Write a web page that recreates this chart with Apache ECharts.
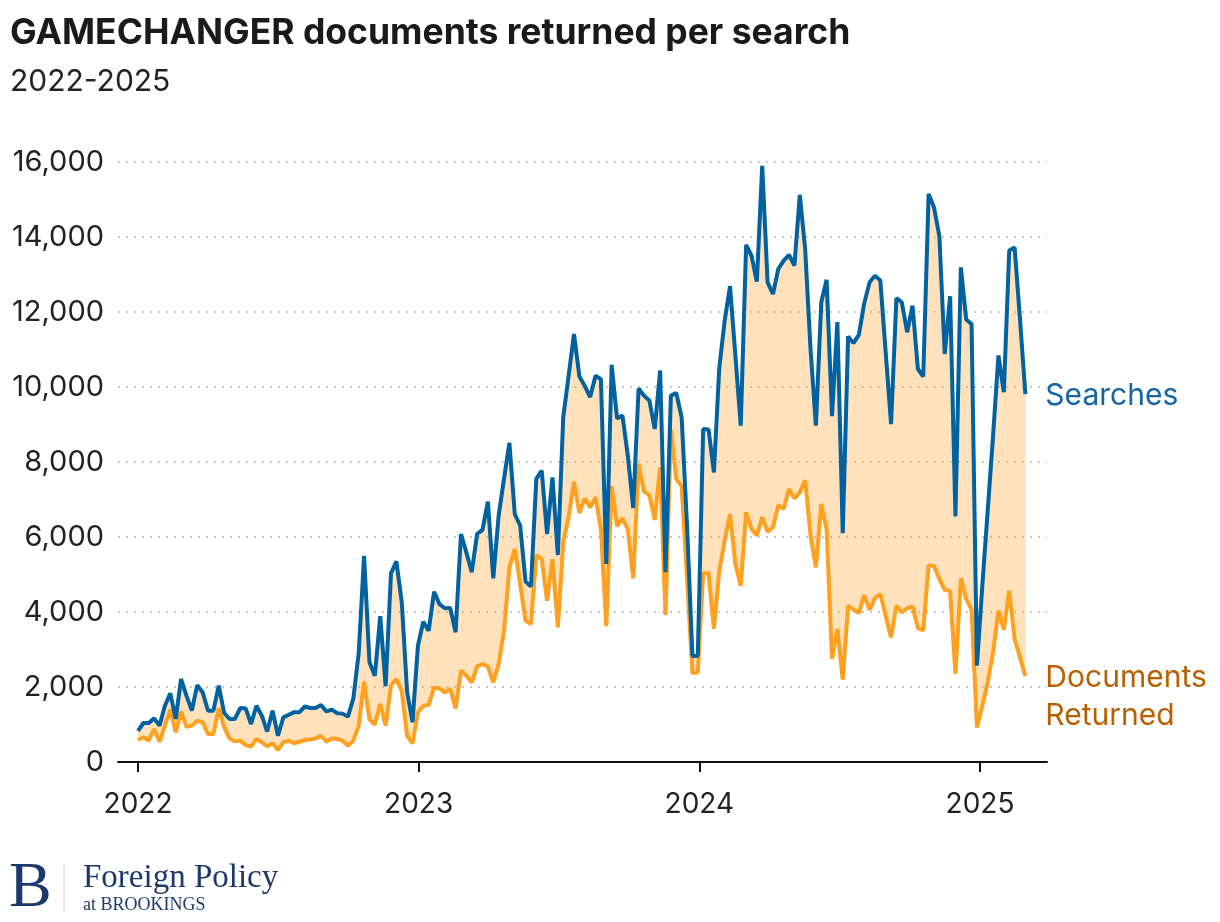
<!DOCTYPE html>
<html>
<head>
<meta charset="utf-8">
<title>GAMECHANGER documents returned per search</title>
<script src="https://cdn.jsdelivr.net/npm/echarts@6/dist/echarts.min.js"></script>
<style>
    html, body { margin: 0; padding: 0; background: #ffffff; }
    #chart { width: 1220px; height: 922px; }
</style>
</head>
<body>
<div id="chart"></div>
<script>
// weekly points, first week starts on this day
let weekStart = Date.UTC(2022, 0, 1);
let yearTicks = [2022, 2023, 2024, 2025];

let searches = [
    830, 1040, 1040, 1165, 970, 1500, 1830, 1150, 2210, 1770,
    1370, 2050, 1860, 1370, 1370, 2035, 1307, 1150, 1150, 1440,
    1430, 1013, 1500, 1235, 810, 1370, 700, 1190, 1260, 1330,
    1330, 1480, 1440, 1440, 1520, 1350, 1395, 1300, 1290, 1210,
    1690, 2900, 5500, 2660, 2300, 3890, 2020, 5030, 5350, 4260,
    1860, 1060, 3100, 3740, 3500, 4540, 4210, 4100, 4110, 3460,
    6080, 5590, 5060, 6080, 6190, 6940, 4900, 6570, 7550, 8510,
    6610, 6300, 4810, 4680, 7550, 7770, 6080, 7590, 5520, 9190,
    10300, 11410, 10280, 10030, 9730, 10300, 10210, 5280, 10590, 9160,
    9240, 8170, 6770, 9960, 9770, 9640, 8880, 10440, 5060, 9770,
    9840, 9190, 6300, 2830, 2830, 8880, 8870, 7720, 10510, 11760,
    12690, 10840, 8970, 13790, 13500, 12810, 15900, 12790, 12480, 13150,
    13370, 13520, 13240, 15120, 13680, 11010, 8970, 12260, 12860, 9220,
    11730, 6100, 11350, 11170, 11390, 12230, 12790, 12970, 12840, 10930,
    9010, 12370, 12260, 11460, 12170, 10480, 10280, 15150, 14790, 14020,
    10880, 12420, 6550, 13190, 11800, 11680, 2570, 4700, 6700, 8700,
    10840, 9860, 13640, 13720, 11810, 9810
];

let documents = [
    587, 658, 570, 880, 540, 970, 1395, 790, 1340, 940,
    970, 1100, 1060, 750, 750, 1430, 925, 630, 550, 570,
    450, 410, 615, 525, 420, 500, 320, 525, 570, 500,
    540, 587, 600, 630, 700, 540, 630, 615, 570, 435,
    570, 970, 2140, 1140, 1000, 1550, 970, 2040, 2210, 1890,
    700, 500, 1320, 1500, 1520, 1990, 1960, 1860, 1950, 1430,
    2440, 2300, 2120, 2550, 2610, 2550, 2120, 2610, 3500, 5190,
    5680, 4750, 3770, 3680, 5520, 5410, 4300, 5410, 3590, 5860,
    6530, 7480, 6640, 7030, 6790, 7060, 6210, 3620, 7350, 6290,
    6500, 6210, 4900, 7950, 7210, 7120, 6460, 7860, 3920, 8860,
    7550, 7350, 4880, 2370, 2390, 5040, 5040, 3550, 5100, 5900,
    6610, 5280, 4700, 6660, 6210, 6040, 6530, 6140, 6260, 6850,
    6750, 7280, 7030, 7190, 7510, 6040, 5190, 6880, 6210, 2750,
    3550, 2200, 4170, 4060, 3970, 4450, 4060, 4370, 4480, 3900,
    3320, 4170, 3990, 4100, 4150, 3570, 3510, 5250, 5230, 4880,
    4590, 4560, 2350, 4900, 4350, 4060, 920, 1500, 2120, 2930,
    4040, 3530, 4570, 3280, 2790, 2290
];

let blue = '#0062a1';
let orange = '#ffa01e';
let font = 'Inter, "Noto Sans", sans-serif';
let serif = '"Liberation Serif", "DejaVu Serif", serif';

// date -> fractional year, so the x axis can be a plain value axis
function toYear(t) {
    let y = new Date(t).getUTCFullYear();
    let s = Date.UTC(y, 0, 1);
    let e = Date.UTC(y + 1, 0, 1);
    return y + (t - s) / (e - s);
}

let weeks = searches.map(function (v, i) { return toYear(weekStart + i * 7 * 86400000); });

function pairs(values) {
    return values.map(function (v, i) { return [weeks[i], v]; });
}

// shaded band between the two lines, one polygon through the axis scales
function renderBand(params, api) {
    if (params.dataIndex !== 0) return null;
    var pts = [];
    for (var i = 0; i < weeks.length; i++) {
        pts.push(api.coord([weeks[i], searches[i]]));
    }
    for (var j = weeks.length - 1; j >= 0; j--) {
        pts.push(api.coord([weeks[j], documents[j]]));
    }
    return {
        type: 'polygon',
        shape: { points: pts },
        style: { fill: 'rgba(255,160,30,0.3)' }
    };
}

function addChart() {
    var dom = document.getElementById('chart');
    var myChart = echarts.init(dom, null, { renderer: 'canvas' });

    var option = {
        backgroundColor: '#ffffff',
        animation: false,
        textStyle: { fontFamily: font },
        grid: { left: 118, top: 162, width: 929, height: 600, containLabel: false },
        xAxis: {
            type: 'value',
            min: 2021.9287,
            max: 2025.2387,
            axisLine: { show: true, onZero: false, lineStyle: { color: '#111111', width: 2 } },
            axisTick: { show: true, customValues: yearTicks, length: 10, lineStyle: { color: '#111111', width: 2 } },
            axisLabel: {
                customValues: yearTicks,
                formatter: function (v) { return String(Math.round(v)); },
                color: '#222222', fontSize: 28, fontFamily: font, margin: 29
            },
            splitLine: { show: false }
        },
        yAxis: {
            type: 'value',
            min: 0,
            max: 16000,
            interval: 2000,
            axisLine: { show: false },
            axisTick: { show: false },
            axisLabel: {
                formatter: function (v) { return v.toLocaleString('en-US'); },
                color: '#222222', fontSize: 29, fontFamily: font, margin: 14
            },
            splitLine: { lineStyle: { color: '#c8c8c8', width: 2, type: [2, 6] } }
        },
        series: [
            {
                name: 'band', type: 'custom', renderItem: renderBand,
                data: pairs(searches), encode: { x: 0, y: 1 }, silent: true, z: 1
            },
            {
                name: 'Documents Returned', type: 'line', data: pairs(documents),
                symbol: 'none', lineStyle: { color: orange, width: 4 }, z: 3,
                endLabel: {
                    show: true, formatter: 'Documents\nReturned', color: '#b86000',
                    fontSize: 30, fontFamily: font, lineHeight: 38, distance: 20, offset: [0, 21]
                }
            },
            {
                name: 'Searches', type: 'line', data: pairs(searches),
                symbol: 'none', lineStyle: { color: blue, width: 4 }, z: 4,
                endLabel: {
                    show: true, formatter: 'Searches', color: '#1565a5',
                    fontSize: 30, fontFamily: font, distance: 20, offset: [0, 2]
                }
            }
        ],
        graphic: [
            { type: 'text', left: 10, top: 15, style: { text: 'GAMECHANGER documents returned per search', fill: '#1a1a1a', font: 'bold 35.5px ' + font } },
            { type: 'text', left: 10, top: 67, style: { text: '2022-2025', fill: '#222222', font: '30px ' + font } },
            // Foreign Policy at Brookings logo
            { type: 'text', left: 9, top: 857, style: { text: 'B', fill: '#1b3a6b', font: '64px ' + serif } },
            { type: 'line', shape: { x1: 64, y1: 864, x2: 64, y2: 912 }, style: { stroke: '#c9ced8', lineWidth: 1 } },
            { type: 'text', left: 83, top: 862, style: { text: 'Foreign Policy', fill: '#1b3a6b', font: '33px ' + serif } },
            { type: 'text', left: 83, top: 896, style: { text: 'at BROOKINGS', fill: '#1b3a6b', font: '18px ' + serif } }
        ]
    };

    myChart.setOption(option);
    window.addEventListener('resize', myChart.resize);
}

addChart();
</script>
</body>
</html>
